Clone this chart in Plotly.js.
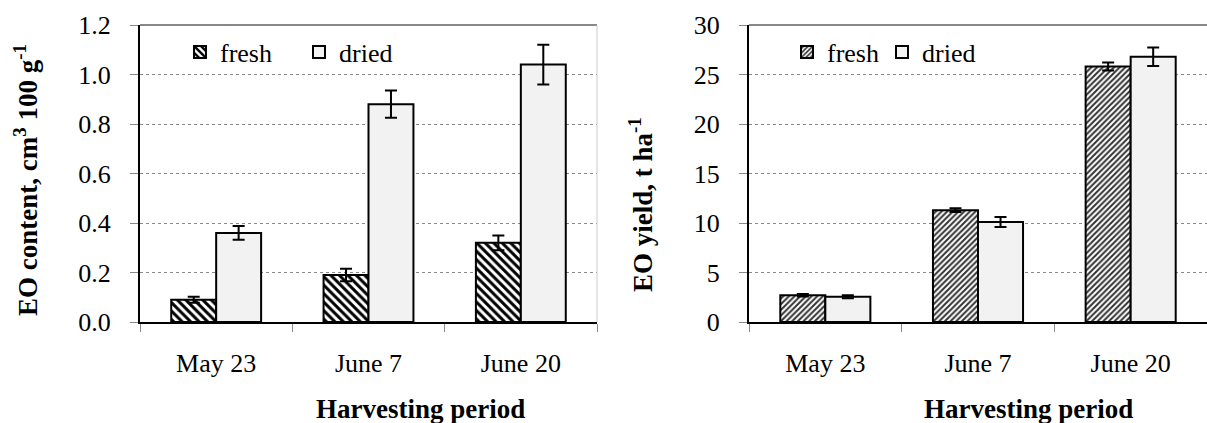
<!DOCTYPE html>
<html>
<head>
<meta charset="utf-8">
<script src="https://cdn.plot.ly/plotly-3.0.1.min.js"></script>
<style>html,body{margin:0;padding:0;background:#fff;}#chart{width:1207px;height:423px;}</style>
</head>
<body>
<div id="chart"></div>
<script>
// Data
const categories = ["May 23", "June 7", "June 20"];
const contentFresh = [0.09, 0.19, 0.32];
const contentFreshErr = [0.012, 0.025, 0.03];
const contentDried = [0.36, 0.88, 1.04];
const contentDriedErr = [0.028, 0.055, 0.08];
const yieldFresh = [2.7, 11.3, 25.8];
const yieldFreshErr = [0.12, 0.2, 0.4];
const yieldDried = [2.55, 10.1, 26.8];
const yieldDriedErr = [0.15, 0.5, 0.93];
const seriesNames = ["fresh", "dried"];

const FONT = "Liberation Serif";
const W = 1207;

const errStyle = (arr) => ({type: "data", array: arr, visible: true, color: "#000", thickness: 2, width: 6});

const traces = [
  {type: "bar", x: categories, y: contentFresh, name: seriesNames[0], xaxis: "x", yaxis: "y", legend: "legend",
   error_y: errStyle(contentFreshErr),
   marker: {color: "#fff", line: {color: "#000", width: 2},
            pattern: {shape: "\\", size: 6, solidity: 0.5, fgcolor: "#000", bgcolor: "#fff"}}},
  {type: "bar", x: categories, y: contentDried, name: seriesNames[1], xaxis: "x", yaxis: "y", legend: "legend",
   error_y: errStyle(contentDriedErr),
   marker: {color: "#f2f2f2", line: {color: "#000", width: 2}}},
  {type: "bar", x: categories, y: yieldFresh, name: seriesNames[0], xaxis: "x2", yaxis: "y2", legend: "legend2",
   error_y: errStyle(yieldFreshErr),
   marker: {color: "#fff", line: {color: "#000", width: 2},
            pattern: {shape: "/", size: 4, solidity: 0.5, fgcolor: "#333", bgcolor: "#fff"}}},
  {type: "bar", x: categories, y: yieldDried, name: seriesNames[1], xaxis: "x2", yaxis: "y2", legend: "legend2",
   error_y: errStyle(yieldDriedErr),
   marker: {color: "#f2f2f2", line: {color: "#000", width: 2}}}
];

const xBase = {
  type: "category", showgrid: false, showline: true, linecolor: "#000", linewidth: 1.5,
  ticks: "outside", tickson: "boundaries", ticklen: 8, tickcolor: "#888", tickwidth: 1,
  tickfont: {family: FONT, size: 26, color: "#000"}, ticklabelstandoff: 17, fixedrange: true
};
const yBase = {
  showgrid: true, gridcolor: "#888", griddash: "dot", gridwidth: 1,
  showline: true, linecolor: "#000", linewidth: 2, zeroline: false,
  ticks: "outside", ticklen: 8, tickcolor: "#888", tickwidth: 1,
  tickfont: {family: FONT, size: 26, color: "#000"}, ticklabelstandoff: 14, fixedrange: true
};

const px = (p) => p / W;
const py = (p) => (322 - p) / 297;

const layout = {
  width: 1207, height: 423,
  margin: {l: 0, r: 0, t: 25, b: 101},
  paper_bgcolor: "#fff", plot_bgcolor: "#fff",
  barmode: "group", bargap: 0.41, bargroupgap: 0,
  font: {family: FONT, color: "#000", size: 26},
  xaxis: Object.assign({}, xBase, {domain: [px(140), px(597)], anchor: "y"}),
  yaxis: Object.assign({}, yBase, {range: [0, 1.2], dtick: 0.2, tickformat: ".1f", anchor: "x"}),
  xaxis2: Object.assign({}, xBase, {domain: [px(749), 1], anchor: "y2"}),
  yaxis2: Object.assign({}, yBase, {range: [0, 30], dtick: 5, anchor: "x2"}),
  legend: {orientation: "h", x: px(180), y: py(52), xanchor: "left", yanchor: "middle",
           bgcolor: "rgba(0,0,0,0)", font: {family: FONT, size: 26, color: "#000"},
           entrywidth: 74, entrywidthmode: "pixels", itemclick: false},
  legend2: {orientation: "h", x: px(787), y: py(52), xanchor: "left", yanchor: "middle",
           bgcolor: "rgba(0,0,0,0)", font: {family: FONT, size: 26, color: "#000"},
           entrywidth: 50, entrywidthmode: "pixels", itemclick: false},
  shapes: [
    {type: "line", xref: "x domain", yref: "y domain", x0: 0, x1: 1, y0: 1, y1: 1, line: {color: "#888", width: 2}},
    {type: "line", xref: "x domain", yref: "y domain", x0: 1, x1: 1, y0: 0, y1: 1, line: {color: "#ccc", width: 1}},
    {type: "line", xref: "x2 domain", yref: "y2 domain", x0: 0, x1: 1, y0: 1, y1: 1, line: {color: "#888", width: 2}}
  ],
  annotations: [
    {text: "<b>EO content, cm<sup>3</sup> 100 g<sup>-1</sup></b>", textangle: -90, xref: "paper", yref: "paper",
     x: px(26), y: py(180), xanchor: "center", yanchor: "middle", showarrow: false,
     font: {family: FONT, size: 27, color: "#000"}},
    {text: "<b>EO yield, t ha<sup>-1</sup></b>", textangle: -90, xref: "paper", yref: "paper",
     x: px(641), y: py(205), xanchor: "center", yanchor: "middle", showarrow: false,
     font: {family: FONT, size: 27, color: "#000"}},
    {text: "<b>Harvesting period</b>", xref: "paper", yref: "paper",
     x: px(420), y: py(409), xanchor: "center", yanchor: "middle", showarrow: false,
     font: {family: FONT, size: 27, color: "#000"}},
    {text: "<b>Harvesting period</b>", xref: "paper", yref: "paper",
     x: px(1028), y: py(409), xanchor: "center", yanchor: "middle", showarrow: false,
     font: {family: FONT, size: 27, color: "#000"}}
  ]
};

Plotly.newPlot("chart", traces, layout, {displayModeBar: false, staticPlot: true});
</script>
</body>
</html>
